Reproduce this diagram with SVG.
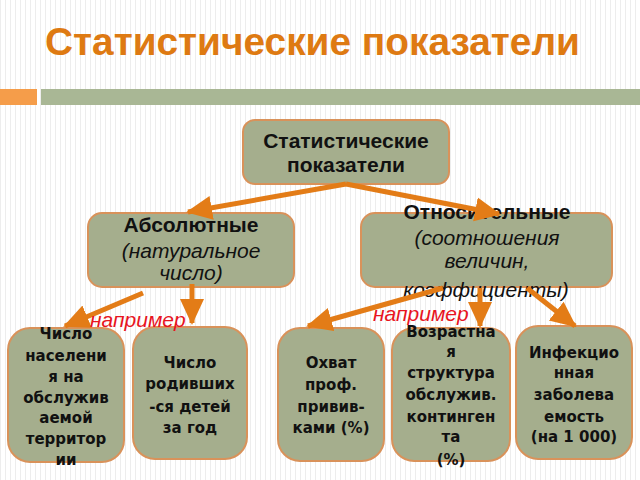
<svg xmlns="http://www.w3.org/2000/svg" width="640" height="480" viewBox="0 0 640 480">
<defs>
<pattern id="stripes" width="5" height="10" patternUnits="userSpaceOnUse">
<rect width="5" height="10" fill="#ffffff"/>
<rect x="0" width="1" height="10" fill="#ededed"/>
</pattern>
<marker id="ah" markerUnits="userSpaceOnUse" markerWidth="26" markerHeight="26" viewBox="0 0 26 26" refX="24" refY="13" orient="auto">
<path d="M0,1 L26,13 L0,25 Z" fill="#e37c17"/>
</marker>
</defs>
<style>
.node{fill:#a5ae8d;stroke:#d9925a;stroke-width:2}
.t{font-family:"Liberation Sans",Arial,sans-serif;fill:#111;text-anchor:middle}
.b{font-weight:bold}
.i{font-style:italic}
.s{font-family:"DejaVu Sans",Verdana,sans-serif;font-weight:bold;font-size:15px;fill:#111;text-anchor:middle}
.conn line{stroke:#e37c17;stroke-width:5;marker-end:url(#ah)}
.ex{font-family:"Liberation Sans",Arial,sans-serif;font-style:italic;font-size:21px;fill:#e8141e}
</style>
<rect width="640" height="480" fill="url(#stripes)"/>
<text x="45" y="55" font-family="Liberation Sans,Arial,sans-serif" font-weight="bold" font-size="38" fill="#de7a12" textLength="535" lengthAdjust="spacingAndGlyphs">Статистические показатели</text>
<rect x="0" y="89" width="37" height="16" fill="#f59d4a"/>
<rect x="41" y="89" width="599" height="16" fill="#a9b795"/>

<g id="n-root">
<rect class="node" x="243" y="120" width="206" height="64" rx="12"/>
<text class="t b" x="346" y="148" font-size="21">Статистические</text>
<text class="t b" x="346" y="172" font-size="21">показатели</text>
</g>
<g id="n-abs">
<rect class="node" x="88" y="213" width="206" height="74" rx="14"/>
<text class="t b" x="191" y="232" font-size="21">Абсолютные</text>
<text class="t i" x="191" y="258" font-size="21">(натуральное</text>
<text class="t i" x="191" y="280" font-size="21">число)</text>
</g>
<g id="n-rel">
<rect class="node" x="361" y="213" width="251" height="74" rx="14"/>
<text class="t b" x="487" y="219" font-size="21">Относительные</text>
<text class="t i" x="487" y="245" font-size="21">(соотношения</text>
<text class="t i" x="487" y="268" font-size="21">величин,</text>
<text class="t i" x="486" y="297" font-size="21">коэффициенты)</text>
</g>
<g id="n-b1">
<rect class="node" x="8" y="328" width="116" height="134" rx="22"/>
<text class="s" x="66" y="339">Число</text>
<text class="s" x="66" y="361">населени</text>
<text class="s" x="66" y="382">я на</text>
<text class="s" x="66" y="403">обслужив</text>
<text class="s" x="66" y="423">аемой</text>
<text class="s" x="66" y="444">территор</text>
<text class="s" x="66" y="465">ии</text>
</g>
<g id="n-b2">
<rect class="node" x="133" y="327" width="114" height="132" rx="22"/>
<text class="s" x="190" y="368">Число</text>
<text class="s" x="190" y="389">родивших</text>
<text class="s" x="190" y="412">-ся детей</text>
<text class="s" x="190" y="433">за год</text>
</g>
<g id="n-b3">
<rect class="node" x="278" y="328" width="106" height="133" rx="22"/>
<text class="s" x="331" y="368">Охват</text>
<text class="s" x="331" y="390">проф.</text>
<text class="s" x="331" y="412">привив-</text>
<text class="s" x="331" y="433">ками (%)</text>
</g>
<g id="n-b4">
<rect class="node" x="392" y="328" width="118" height="133" rx="22"/>
<text class="s" x="451" y="337">Возрастна</text>
<text class="s" x="451" y="357">я</text>
<text class="s" x="451" y="378">структура</text>
<text class="s" x="451" y="400">обслужив.</text>
<text class="s" x="451" y="422">континген</text>
<text class="s" x="451" y="442">та</text>
<text class="s" x="451" y="465">(%)</text>
</g>
<g id="n-b5">
<rect class="node" x="516" y="326" width="116" height="133" rx="22"/>
<text class="s" x="574" y="358">Инфекцио</text>
<text class="s" x="574" y="378">нная</text>
<text class="s" x="574" y="400">заболева</text>
<text class="s" x="574" y="422">емость</text>
<text class="s" x="574" y="442">(на 1 000)</text>
</g>

<g id="connectors" class="conn">
<line x1="346" y1="184" x2="188" y2="212"/>
<line x1="346" y1="184" x2="499" y2="214"/>
<line x1="143" y1="293" x2="65" y2="326"/>
<line x1="192" y1="284" x2="192" y2="323"/>
<line x1="443" y1="288" x2="308" y2="326"/>
<line x1="480" y1="288" x2="480" y2="326"/>
<line x1="527" y1="288" x2="575" y2="326"/>
</g>
<text class="ex" x="90" y="327">например</text>
<text class="ex" x="373" y="321">например</text>
</svg>
